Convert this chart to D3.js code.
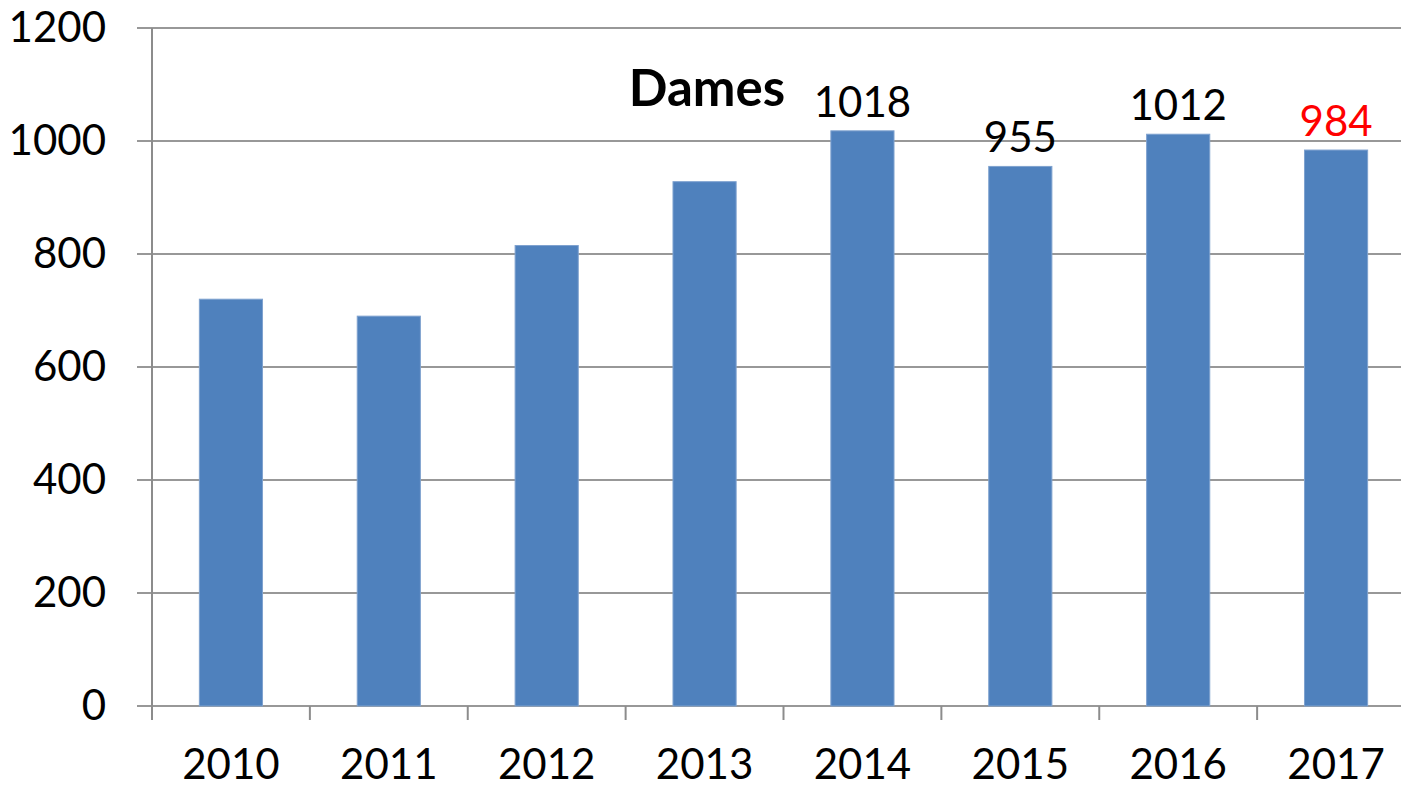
<!DOCTYPE html>
<html>
<head>
<meta charset="utf-8">
<script src="https://cdn.jsdelivr.net/npm/d3@7"></script>
<style>
  body { margin: 0; background: #fff; }
  svg { display: block; font-family: Lato, "Open Sans", sans-serif; }
</style>
</head>
<body>
<svg width="1401" height="788"></svg>
<script>
// chart data
const years = ["2010", "2011", "2012", "2013", "2014", "2015", "2016", "2017"];
const counts = [720, 690, 815, 928, 1018, 955, 1012, 984];
const labelled = ["2014", "2015", "2016", "2017"];
const yTicks = [0, 200, 400, 600, 800, 1000, 1200];

const svg = d3.select("svg");
const plotLeft = 152, plotRight = 1415, plotTop = 28, plotBottom = 706;

const x = d3.scaleBand()
    .domain(years)
    .range([plotLeft, plotRight])
    .paddingInner(0.6)
    .paddingOuter(0.3);

const y = d3.scaleLinear()
    .domain([0, 1200])
    .range([plotBottom, plotTop]);

const step = x.step();

// horizontal gridlines (they also act as y ticks)
svg.append("g")
    .selectAll("line")
    .data(yTicks)
    .enter()
    .append("line")
    .attr("x1", plotLeft - 15)
    .attr("x2", 1401)
    .attr("y1", d => y(d))
    .attr("y2", d => y(d))
    .attr("stroke", "#989898")
    .attr("stroke-width", 2);

// y labels
const yAxis = svg.append("g")
    .attr("transform", `translate(${plotLeft - 15},0)`)
    .call(d3.axisLeft(y).tickValues(yTicks).tickFormat(d3.format("d")).tickSize(0).tickPadding(31));
yAxis.select(".domain").remove();
yAxis.selectAll("text")
    .attr("fill", "#000")
    .style("font-size", "42px")
    .style("font-family", "Lato, sans-serif");

// y axis line
svg.append("line")
    .attr("x1", plotLeft).attr("x2", plotLeft)
    .attr("y1", plotTop).attr("y2", plotBottom + 14)
    .attr("stroke", "#8c8c8c")
    .attr("stroke-width", 2);

// category boundary ticks
svg.append("g")
    .selectAll("line")
    .data(years.slice(1))
    .enter()
    .append("line")
    .attr("x1", d => x(d) - step * 0.3)
    .attr("x2", d => x(d) - step * 0.3)
    .attr("y1", plotBottom)
    .attr("y2", plotBottom + 14)
    .attr("stroke", "#8c8c8c")
    .attr("stroke-width", 2);

// bars
svg.append("g")
    .selectAll("rect")
    .data(years)
    .enter()
    .append("rect")
    .attr("x", d => x(d))
    .attr("y", (d, i) => y(counts[i]))
    .attr("width", x.bandwidth())
    .attr("height", (d, i) => plotBottom - y(counts[i]))
    .attr("fill", "#4f81bd")
    .attr("stroke", "#7fa2cf")
    .attr("stroke-width", 1);

// x labels
const xAxis = svg.append("g")
    .attr("transform", `translate(0,${plotBottom})`)
    .call(d3.axisBottom(x).tickSize(0).tickPadding(43));
xAxis.select(".domain").remove();
xAxis.selectAll("text")
    .attr("fill", "#000")
    .style("font-size", "42px")
    .style("font-family", "Lato, sans-serif");

// value labels on the last four bars
svg.append("g")
    .selectAll("text")
    .data(labelled)
    .enter()
    .append("text")
    .attr("x", d => x(d) + x.bandwidth() / 2)
    .attr("y", d => y(counts[years.indexOf(d)]) - 14)
    .attr("text-anchor", "middle")
    .attr("fill", d => d === "2017" ? "#ff0000" : "#000")
    .style("font-size", "42px")
    .text(d => counts[years.indexOf(d)]);

// title
svg.append("text")
    .attr("x", 707)
    .attr("y", 106)
    .attr("text-anchor", "middle")
    .style("font-size", "51px")
    .style("font-weight", "bold")
    .text("Dames");
</script>
</body>
</html>
